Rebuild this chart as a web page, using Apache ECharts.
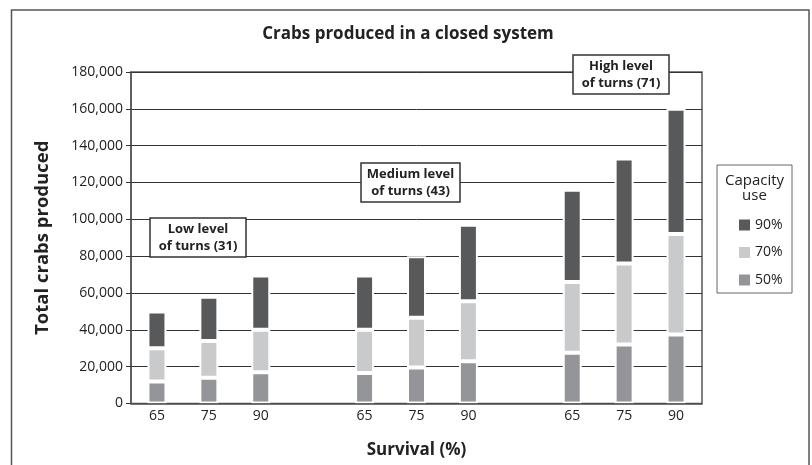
<!DOCTYPE html>
<html>
<head>
<meta charset="utf-8">
<style>
  html, body { margin: 0; padding: 0; background: #fff; }
  #chart { width: 812px; height: 465px; }
</style>
<script src="https://cdn.jsdelivr.net/npm/echarts@6/dist/echarts.min.js"></script>
</head>
<body>
<div id="chart"></div>
<script>
// survival groups: low / medium / high level of turns, blank slot between groups
var categories = ["65", "75", "90", "", "65", "75", "90", "", "65", "75", "90"];
var cap50 = [12000, 14000, 17000, "-", 16500, 19500, 23000, "-", 27500, 32000, 37500];
var cap70 = [18000, 20000, 23000, "-", 23500, 27000, 32500, "-", 38500, 44000, 54500];
var cap90 = [20000, 24000, 29500, "-", 29500, 33500, 41500, "-", 50000, 57000, 68000];
var legendNames = ["90%", "70%", "50%"];

var font = "'Open Sans', 'Noto Sans', sans-serif";
var barBorder = { borderColor: "#fff", borderWidth: 2 };

function noteBox(x, y, w, h, text) {
  return [
    { type: "rect", shape: { x: x, y: y, width: w, height: h },
      style: { fill: "#fff", stroke: "#333", lineWidth: 1.5 }, z: 20 },
    { type: "text", x: x + w / 2, y: y + h / 2, z: 21,
      style: { text: text, font: "bold 13px " + font, fill: "#222",
               align: "center", verticalAlign: "middle", lineHeight: 17 } }
  ];
}

var chart = echarts.init(document.getElementById("chart"));
chart.setOption({
  animation: false,
  title: {
    text: "Crabs produced in a closed system",
    left: 403, top: 21, textAlign: "center",
    textStyle: { fontFamily: font, fontWeight: "bold", fontSize: 17, color: "#222" }
  },
  grid: {
    left: 131, right: 110, top: 72, bottom: 61.5,
    show: true, borderColor: "#555", borderWidth: 1.5
  },
  legend: {
    data: legendNames,
    orient: "vertical",
    left: 734, top: 213,
    itemWidth: 11, itemHeight: 11, itemGap: 13.5,
    icon: "rect",
    itemStyle: { borderWidth: 0 },
    textStyle: { fontFamily: font, fontSize: 14, color: "#222" }
  },
  xAxis: {
    type: "category",
    data: categories,
    z: 10,
    name: "Survival (%)",
    nameLocation: "middle",
    nameGap: 38,
    nameTextStyle: { fontFamily: font, fontWeight: "bold", fontSize: 17, color: "#222" },
    axisLine: { lineStyle: { color: "#555", width: 1.5 } },
    axisTick: { show: false },
    axisLabel: { fontFamily: font, fontSize: 14, color: "#222", margin: 6 }
  },
  yAxis: {
    type: "value",
    min: 0, max: 180000, interval: 20000,
    name: "Total crabs produced",
    nameLocation: "middle",
    nameGap: 79,
    nameTextStyle: { fontFamily: font, fontWeight: "bold", fontSize: 18.5, color: "#222" },
    axisLine: { show: true, lineStyle: { color: "#555", width: 1.5 } },
    axisTick: { show: true, length: 5, lineStyle: { color: "#333" } },
    splitLine: { lineStyle: { color: "#333", width: 1 } },
    axisLabel: {
      fontFamily: font, fontSize: 14, color: "#222", margin: 8,
      formatter: function (v) { return v.toLocaleString("en-US"); }
    }
  },
  series: [
    { name: "50%", type: "bar", stack: "total", barWidth: 19, data: cap50,
      itemStyle: Object.assign({ color: "#939598" }, barBorder) },
    { name: "70%", type: "bar", stack: "total", barWidth: 19, data: cap70,
      itemStyle: Object.assign({ color: "#c9cacc" }, barBorder) },
    { name: "90%", type: "bar", stack: "total", barWidth: 19, data: cap90,
      itemStyle: Object.assign({ color: "#58595b" }, barBorder) }
  ],
  graphic: [
    // outer frame, runs off the bottom edge
    { type: "rect", shape: { x: 11.5, y: 10, width: 797.5, height: 470 },
      style: { fill: "none", stroke: "#555", lineWidth: 1.5 }, z: -1 },
    // legend box with heading
    { type: "rect", shape: { x: 717, y: 165, width: 75, height: 128 },
      style: { fill: "#fff", stroke: "#666", lineWidth: 1 }, z: -1 },
    { type: "text", x: 754.5, y: 188, z: 5,
      style: { text: "Capacity\nuse", font: "15px " + font, fill: "#222",
               align: "center", verticalAlign: "middle", lineHeight: 15 } }
  ]
    .concat(noteBox(150, 218, 96, 39, "Low level\nof turns (31)"))
    .concat(noteBox(361, 163, 99, 39, "Medium level\nof turns (43)"))
    .concat(noteBox(573, 55, 96, 39, "High level\nof turns (71)"))
});
</script>
</body>
</html>
